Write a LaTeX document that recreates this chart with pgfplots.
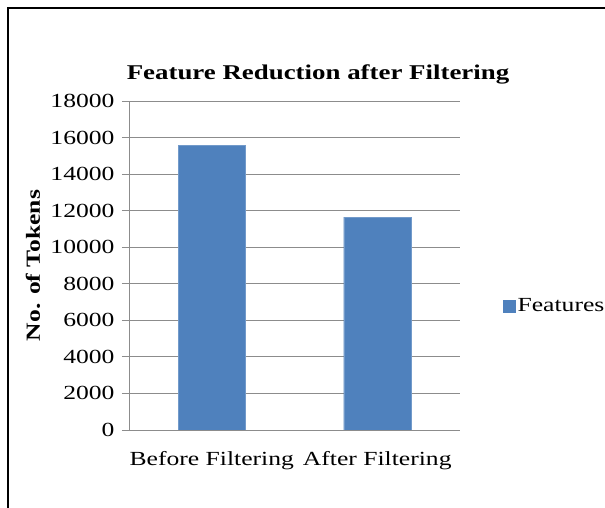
\documentclass[border=0pt]{standalone}
\usepackage{fontspec}
\setmainfont{Liberation Serif}[FakeStretch=1.28]
\usepackage{pgfplots}
\pgfplotsset{compat=1.18}
\definecolor{barblue}{HTML}{4F81BD}
\definecolor{gridgray}{HTML}{8C8C8C}
\begin{document}
\begin{tikzpicture}
\useasboundingbox (0pt,0pt) rectangle (605pt,508pt);
\draw[line width=1.6pt] (8pt,-5pt) -- (8pt,500pt) -- (615pt,500pt);
\begin{axis}[
  at={(129pt,78pt)}, anchor=south west,
  scale only axis, width=331pt, height=329pt,
  ymin=0, ymax=18000, ytick={0,2000,...,18000},
  xmin=-0.5, xmax=1.5,
  xtick={0,1}, xticklabels={Before Filtering, After Filtering},
  minor xtick={-0.5,0.5,1.5},
  axis x line*=bottom, axis y line*=left,
  axis line style={gridgray, line width=0.8pt, -},
  ymajorgrids, major grid style={gridgray, line width=0.8pt},
  tick align=outside,
  major tick length=7pt, minor tick length=7pt,
  xtick style={draw=none},
  minor x tick style={gridgray, line width=0.8pt},
  ytick style={gridgray, line width=0.8pt},
  scaled y ticks=false,
  /pgf/number format/assume math mode=true,
  yticklabel={\pgfmathprintnumber[fixed,1000 sep={}]{\tick}},
  tick label style={font=\fontsize{20}{23}\selectfont},
  yticklabel style={xshift=-4pt},
  xticklabel style={yshift=-11pt},
  ylabel={\textbf{No. of Tokens}},
  ylabel style={font=\fontsize{20}{23}\selectfont, at={(axis description cs:-0.29,0.5)}, anchor=center},
  title={\textbf{Feature Reduction after Filtering}},
  title style={font=\fontsize{21}{24}\selectfont, at={(axis description cs:0.571,1.064)}, anchor=center},
  legend style={draw=none, at={(axis description cs:1.13,0.377)}, anchor=west, font=\fontsize{20}{23}\selectfont, inner sep=0pt},
  legend image code/.code={\fill[barblue] (0pt,-6pt) rectangle (12pt,6pt);},
]
\addplot[ybar, bar width=0.405, fill=barblue, draw=barblue!80!white, bar shift=0pt] coordinates {(0,15560) (1,11650)};
\addlegendentry{Features}
\end{axis}
\end{tikzpicture}
\end{document}
